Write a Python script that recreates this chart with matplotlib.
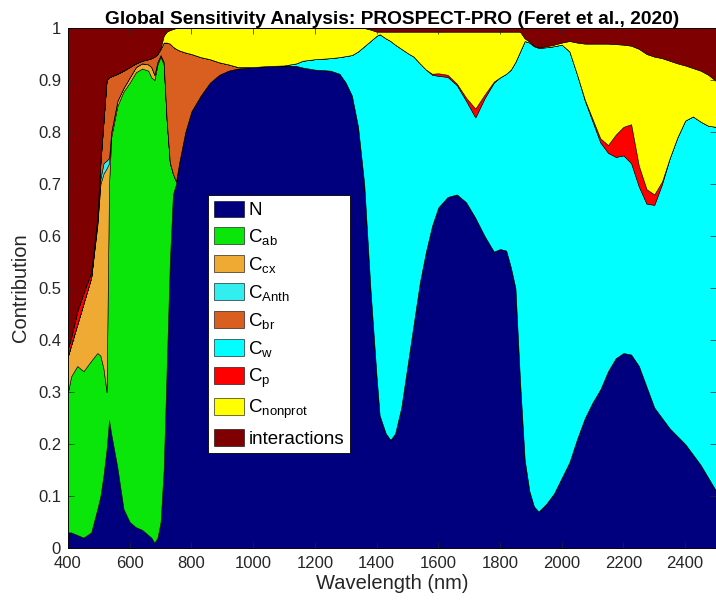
import numpy as np
import matplotlib
matplotlib.use("Agg")
import matplotlib.pyplot as plt

plt.rcParams['font.family'] = ['Liberation Sans', 'DejaVu Sans']
plt.rcParams['mathtext.fontset'] = 'custom'
plt.rcParams['mathtext.rm'] = 'Liberation Sans'
plt.rcParams['mathtext.it'] = 'Liberation Sans'

# wavelength grid (nm)
wl = [400, 410, 430, 450, 475, 495, 505, 515, 525, 533,
      540, 560, 580, 600, 620, 640, 660, 670, 680, 690,
      700, 710, 720, 730, 740, 750, 760, 780, 800, 830,
      860, 890, 920, 950, 1000, 1050, 1100, 1140, 1160, 1200,
      1250, 1280, 1300, 1320, 1340, 1360, 1380, 1400, 1410, 1430,
      1445, 1460, 1480, 1500, 1520, 1540, 1560, 1580, 1600, 1630,
      1660, 1690, 1720, 1750, 1780, 1800, 1820, 1835, 1850, 1865,
      1880, 1895, 1910, 1925, 1950, 1975, 2000, 2025, 2050, 2075,
      2100, 2125, 2150, 2175, 2200, 2225, 2250, 2275, 2300, 2325,
      2350, 2375, 2400, 2425, 2450, 2475, 2500]

# upper edge of each stacked layer (0 = layer absent)
top_N = [.03, .03, .025, .02, .03, .075, .10, .14, .19, .246,
         .22, .155, .075, .05, .04, .035, .025, .02, .01, .02,
         .05, .15, .35, .55, .68, .70, .74, .80, .84, .87,
         .895, .91, .918, .922, .925, .927, .928, .927, .924, .92,
         .918, .912, .895, .87, .81, .70, .50, .33, .255, .22,
         .208, .22, .27, .35, .43, .51, .57, .62, .655, .675,
         .68, .665, .635, .60, .57, .575, .572, .54, .50, .32,
         .17, .11, .08, .07, .085, .105, .135, .165, .21, .25,
         .28, .305, .34, .365, .375, .372, .35, .31, .27, .25,
         .23, .215, .20, .18, .16, .135, .11]

top_Cab = [.30, .33, .35, .34, .36, .375, .37, .345, .30, .70,
           .79, .85, .878, .895, .915, .922, .918, .905, .90, .93,
           .945, .93, .82, .74, .72, .705] + [0] * 71

top_Ccx = [.37, .39, .43, .47, .52, .62, .70, .72, .73, .74,
           .80, .86, .885, .905, .925, .932, .93, .925, .91, .935,
           .948, .935, .822, .742] + [0] * 73

top_CAnth = [0] * 5 + [.625, .71, .74, .745, .75] + [0] * 87

top_Cbr = [0] * 5 + [.63, .74, .82, .90, .905,
                     .907, .912, .918, .925, .932, .937, .94, .942, .945, .95,
                     .96, .972, .972, .97, .964, .96, .957, .953, .95, .944,
                     .94, .934, .93, .925] + [0] * 63

top_Cw = [0] * 37 + [.932, .937, .94,
                     .942, .944, .946, .948, .955, .965, .975, .985, .988, .98,
                     .975, .968, .96, .952, .945, .932, .92, .91, .908, .906,
                     .89, .86, .828, .865, .895, .905, .912, .92, .935, .955,
                     .975, .972, .965, .962, .963, .965, .968, .955, .91, .86,
                     .82, .78, .76, .752, .755, .74, .695, .662, .66, .70,
                     .75, .79, .822, .83, .82, .812, .81]

top_Cp = ([.385, .405, .455, .49, .53, .635, .745, .822] + [0] * 49
          + [.912, .913, .91, .893, .866, .845, .872, .897] + [0] * 14
          + [.862, .825, .788, .775, .795, .81, .815, .735, .69, .68, .705] + [0] * 7)

top_nonprot = [0] * 20 + [.962, .985, .993, .996, .998, 1.0, 1.0, 1.0, 1.0, 1.0,
                          1.0, 1.0, 1.0, 1.0, 1.0, 1.0, 1.0, 1.0, 1.0, 1.0,
                          1.0, 1.0, 1.0, 1.0, 1.0, 1.0, .997, .993, .993, .993,
                          .993, .993, .993, .993, .993, .993, .993, .993, .993, .993,
                          .993, .993, .993, .993, .993, .993, .993, .993, .993, .993,
                          .98, .974, .966, .963, .965, .968, .972, .975, .972, .97,
                          .97, .97, .97, .969, .968, .966, .96, .95, .945, .942,
                          .937, .932, .928, .923, .918, .91, .898]

labels = ['N', r'C$_{\rm ab}$', r'C$_{\rm cx}$', r'C$_{\rm Anth}$', r'C$_{\rm br}$',
          r'C$_{\rm w}$', r'C$_{\rm p}$', r'C$_{\rm nonprot}$', 'interactions']
colors = ['#00007f', '#0ae60a', '#eeaa33', '#33eeee', '#d95f20',
          '#00ffff', '#ff0000', '#ffff00', '#7f0000']

# stack edges -> contributions of each parameter
edges = np.vstack([top_N, top_Cab, top_Ccx, top_CAnth, top_Cbr,
                   top_Cw, top_Cp, top_nonprot]).astype(float)
edges = np.maximum.accumulate(edges, axis=0)
edges = np.vstack([np.zeros(len(wl)), edges, np.ones(len(wl))])
contrib = np.diff(edges, axis=0)

fig = plt.figure(figsize=(7.16, 6.04), dpi=100)
ax = fig.add_axes([68 / 716, 56 / 604, 648 / 716, 520 / 604])

polys = ax.stackplot(wl, contrib, colors=colors, labels=labels,
                     edgecolor='k', linewidth=0.4)

ax.set_xlim(400, 2500)
ax.set_ylim(0, 1)
ax.set_xticks(np.arange(400, 2401, 200))
ax.set_yticks(np.arange(0, 1.01, 0.1))
ax.set_yticklabels(['0', '0.1', '0.2', '0.3', '0.4', '0.5', '0.6', '0.7', '0.8', '0.9', '1'])
ax.tick_params(direction='in', top=True, right=True, labelsize=12, length=4, width=0.5,
               colors='#262626')
ax.tick_params(axis='x', pad=6)
ax.tick_params(axis='y', pad=5)
for s in ax.spines.values():
    s.set_linewidth(0.6)

ax.set_xlabel('Wavelength (nm)', fontsize=14.5, labelpad=2, color='#262626')
ax.set_ylabel('Contribution', fontsize=14.5, labelpad=6, color='#262626')
ax.set_title('Global Sensitivity Analysis: PROSPECT-PRO (Feret et al., 2020)',
             fontsize=13.8, fontweight='bold', pad=3)

leg = ax.legend(handles=polys, loc='upper left', bbox_to_anchor=(0.216, 0.679),
                fontsize=13.5, frameon=True, fancybox=False, edgecolor='k',
                facecolor='white', framealpha=1,
                handlelength=1.6, handleheight=1.0, labelspacing=0.42,
                handletextpad=0.25, borderpad=0.3, borderaxespad=0)
leg.get_frame().set_linewidth(0.6)

fig.savefig('out.png', dpi=100)
